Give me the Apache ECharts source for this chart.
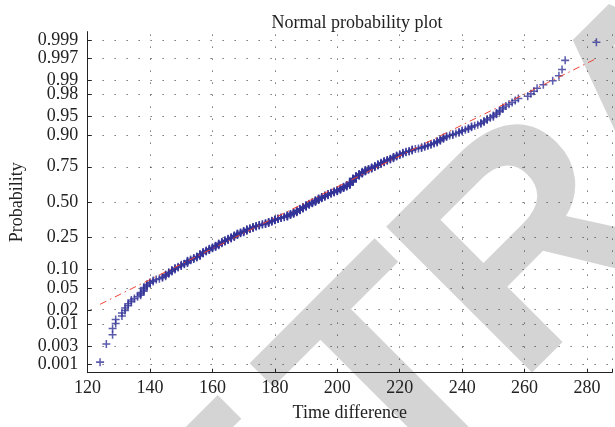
<!DOCTYPE html>
<html><head><meta charset="utf-8">
<script src="https://cdn.jsdelivr.net/npm/echarts@6/dist/echarts.min.js"></script>
<style>html,body{margin:0;padding:0;background:#fff}#c{width:615px;height:427px}</style>
</head><body><div id="c"></div>
<script>
// Distinct observed time differences (sorted) and how many observations share each value
const timeValues = [124,126,128,129,131,132,133,134,135,136,137,138,139,140,141,142,143,144,145,146,147,148,149,150,151,152,153,154,155,156,157,158,159,160,161,162,163,164,165,166,167,168,169,170,171,172,173,174,175,176,177,178,179,180,181,182,183,184,185,186,187,188,189,190,191,192,193,194,195,196,197,198,199,200,201,202,203,204,205,206,207,208,209,210,211,212,213,214,215,216,217,218,219,220,221,222,223,224,225,226,227,228,229,230,231,232,233,234,235,236,237,238,239,240,241,242,243,244,245,246,247,248,249,250,251,252,253,254,255,256,257,258,261,262,263,264,266,269,271,272,273,283];
const timeCounts = [1,1,2,2,2,2,2,2,1,1,3,4,3,2,2,1,1,2,3,3,3,3,2,3,2,5,2,3,3,5,4,3,4,3,4,5,4,4,4,4,5,5,3,4,5,3,4,3,3,2,3,4,4,4,3,3,2,5,4,5,6,6,6,6,5,5,6,6,5,5,5,4,4,5,5,5,5,9,12,7,6,6,5,3,4,4,4,4,4,3,3,4,3,3,3,2,2,3,1,1,2,2,2,2,2,3,3,3,2,1,2,1,2,2,1,2,2,1,1,2,2,2,1,2,2,2,2,1,1,1,1,1,1,1,1,1,1,1,1,1,1,1];

// Probability axis tick marks
const probTicks = [0.001,0.003,0.01,0.02,0.05,0.10,0.25,0.50,0.75,0.90,0.95,0.98,0.99,0.997,0.999];
const probTickLabels = ['0.001','0.003','0.01','0.02','0.05','0.10','0.25','0.50','0.75','0.90','0.95','0.98','0.99','0.997','0.999'];

// Reference (fit) line end points
const fitLineX = [124, 283];
const fitLineP = [0.0258, 0.9969];

const titleText = 'Normal probability plot';
const xName = 'Time difference';
const yName = 'Probability';
const watermarkLetters = ['E','T','R','A'];

function probit(p){
  const a=[-3.969683028665376e+01,2.209460984245205e+02,-2.759285104469687e+02,1.383577518672690e+02,-3.066479806614716e+01,2.506628277459239e+00];
  const b=[-5.447609879822406e+01,1.615858368580409e+02,-1.556989798598866e+02,6.680131188771972e+01,-1.328068155288572e+01];
  const c=[-7.784894002430293e-03,-3.223964580411365e-01,-2.400758277161838e+00,-2.549732539343734e+00,4.374664141464968e+00,2.938163982698783e+00];
  const d=[7.784695709041462e-03,3.224671290700398e-01,2.445134137142996e+00,3.754408661907416e+00];
  const pl=0.02425, ph=1-pl; let q,r;
  if(p<pl){q=Math.sqrt(-2*Math.log(p));return (((((c[0]*q+c[1])*q+c[2])*q+c[3])*q+c[4])*q+c[5])/((((d[0]*q+d[1])*q+d[2])*q+d[3])*q+1);}
  if(p<=ph){q=p-0.5;r=q*q;return (((((a[0]*r+a[1])*r+a[2])*r+a[3])*r+a[4])*r+a[5])*q/(((((b[0]*r+b[1])*r+b[2])*r+b[3])*r+b[4])*r+1);}
  q=Math.sqrt(-2*Math.log(1-p));return -(((((c[0]*q+c[1])*q+c[2])*q+c[3])*q+c[4])*q+c[5])/((((d[0]*q+d[1])*q+d[2])*q+d[3])*q+1);
}

// expand sorted sample, plotting position (i-0.5)/n on the probit scale
const sample = [];
timeValues.forEach((v,k)=>{ for(let j=0;j<timeCounts[k];j++) sample.push(v); });
const n = sample.length;
const points = sample.map((v,i)=>[v, probit((i+0.5)/n)]);
const fitData = fitLineX.map((x,i)=>[x, probit(fitLineP[i])]);
const tickZ = probTicks.map(probit);

const serif = '"Liberation Serif", "Times New Roman", serif';
const txt = '#222';
const plusPath = 'path://M-0.19,-1H0.19V-0.19H1V0.19H0.19V1H-0.19V0.19H-1V-0.19H-0.19Z';
const dotStyle = {color:'#333', width:1, type:[1,11], dashOffset:9};

const wmPos = [[176.2,611.5],[334.7,453.0],[459.4,328.3],[601.7,186.0]];
function wm(ch, p){
  return {type:'text', x:p[0], y:p[1], rotation:Math.PI/4, z:-10, silent:true,
    style:{text:ch, fill:'#d4d4d4', fontSize:300, fontWeight:'bold', fontFamily:'"Liberation Sans", Arial, sans-serif', align:'left', verticalAlign:'middle', textAlign:'left', textVerticalAlign:'middle'}};
}

const chart = echarts.init(document.getElementById('c'), null, {renderer:'canvas'});
chart.setOption({
  backgroundColor:'#fff',
  animation:false,
  graphic:{elements: watermarkLetters.map((ch,i)=>wm(ch, wmPos[i]))},
  title:{text:titleText, left:352, top:9.3, textAlign:'center', textStyle:{fontFamily:serif, fontSize:18, fontWeight:'normal', color:txt}},
  grid:{left:87.6, top:31.6, width:528.9, height:341.1, containLabel:false},
  xAxis:{type:'value', min:120, max:288, interval:20,
    name:xName, nameLocation:'middle', nameGap:31.3,
    nameTextStyle:{fontFamily:serif, fontSize:18, color:txt},
    axisLine:{onZero:false, lineStyle:{color:'#222', width:1}},
    axisTick:{inside:true, length:4, lineStyle:{color:'#222'}},
    axisLabel:{fontFamily:serif, fontSize:18, color:txt, margin:6.6,
      formatter:function(v){ return (v%20===0)? String(v) : ''; }},
    splitLine:{show:true, lineStyle:dotStyle}
  },
  yAxis:{type:'value', min:-3.25, max:3.25,
    name:yName, nameLocation:'middle', nameGap:61, nameRotate:90,
    nameTextStyle:{fontFamily:serif, fontSize:18, color:txt},
    axisLine:{show:true, onZero:false, lineStyle:{color:'#222', width:1}},
    axisTick:{show:true, inside:true, length:4, customValues:tickZ, lineStyle:{color:'#222'}},
    axisLabel:{fontFamily:serif, fontSize:18, color:txt, margin:9.3, customValues:tickZ,
      formatter:function(v){ let best=0; for(let i=1;i<tickZ.length;i++){ if(Math.abs(tickZ[i]-v)<Math.abs(tickZ[best]-v)) best=i; } return probTickLabels[best]; }},
    splitLine:{show:false}
  },
  series:[
    {type:'line', data:[], z:1, silent:true,
      markLine:{silent:true, symbol:['none','none'], label:{show:false}, animation:false,
        lineStyle:dotStyle, emphasis:{disabled:true},
        data:tickZ.map(z=>({yAxis:z}))}},
    {type:'scatter', data:points, z:3, symbol:plusPath, symbolSize:8,
      itemStyle:{color:'#333399'}, silent:true},
    {type:'line', data:fitData, z:4, symbol:'none', silent:true,
      lineStyle:{color:'#ee4433', width:1, type:[7,4,1.5,4]}}
  ]
});
</script></body></html>
